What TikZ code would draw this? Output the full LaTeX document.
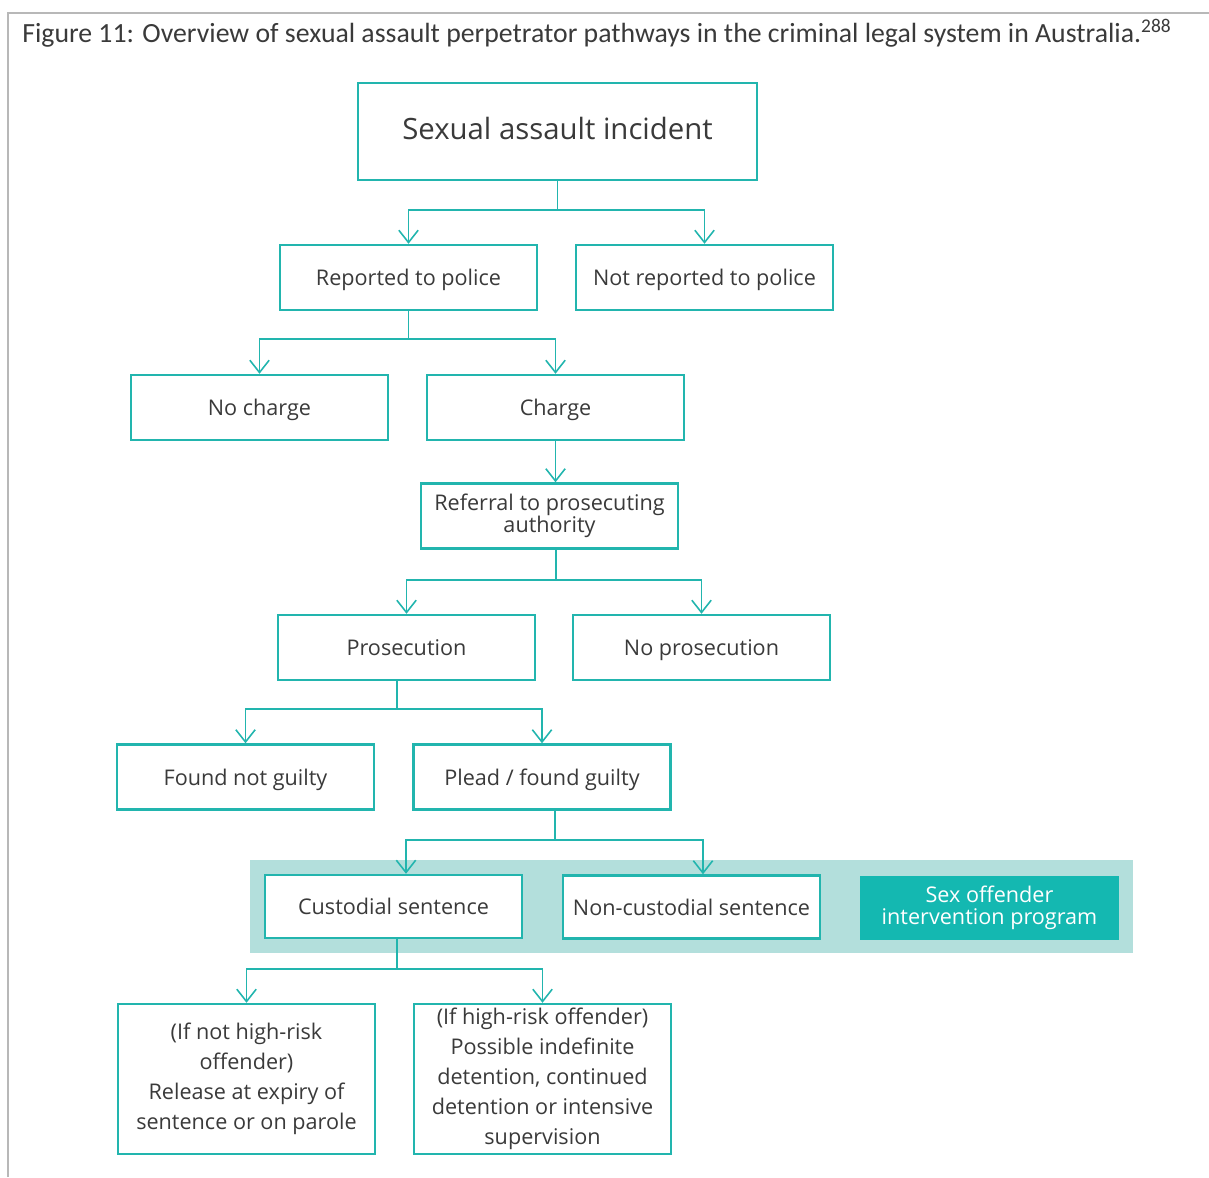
\documentclass[tikz,border=0pt]{standalone}
\usepackage{fontspec}
\setmainfont{Open Sans}
\newfontfamily\captionfont{Carlito}
\usetikzlibrary{arrows.meta, positioning}
\definecolor{flowteal}{HTML}{22B5AE}
\definecolor{bandteal}{HTML}{B3DFDC}
\definecolor{fillteal}{HTML}{14B8B1}
\definecolor{inkgray}{HTML}{3A3A3A}
\tikzset{
x=0.02cm, y=-0.02cm, % one unit is one pixel of the page, y runs downwards
>={Straight Barb[length=7pt,width=11pt,line width=0.9pt]}, % open arrow heads
stage/.style={draw=flowteal, line width=1.4pt, fill=white, text=inkgray,
  minimum width=5.14cm, minimum height=1.3cm, inner sep=0pt, align=center,
  font=\fontsize{12.3}{12.5}\selectfont}, % sets the properties for each box
oneline/.style={text height=2.1ex, text depth=0.35ex}, % keeps single lines on one baseline
tall/.style={minimum height=3cm, font=\fontsize{12.3}{17}\selectfont}, % boxes at the bottom
link/.style={->, draw=flowteal, line width=0.9pt}, % connectors between boxes
}
\begin{document}
\begin{tikzpicture}
    \useasboundingbox (0,0) rectangle (1209,1177);
    \draw[black!28, line width=1pt] (8,1177) -- (8,13) -- (1209,13);
    \node[anchor=base west, text=inkgray, inner sep=0pt, font=\captionfont\fontsize{15.8}{17}\selectfont] (caption) at (22,42)
      {Figure 11: Overview of sexual assault perpetrator pathways in the criminal legal system in Australia.\textsuperscript{288}};

    % the shaded band behind the sentences
    \fill[bandteal] (250,860) rectangle (1133,953);

    \node[stage, oneline, minimum width=7.98cm, minimum height=1.94cm, font=\fontsize{16.7}{18}\selectfont] (incident) at (557.5,131.5) {Sexual assault incident};
    \node[stage, oneline] (reported) at (408.5,277.5) {Reported to police};
    \node[stage, oneline] (notreported) at (704.5,277.5) {Not reported to police};
    \node[stage, oneline] (nocharge) at (259.5,407.5) {No charge};
    \node[stage, oneline] (charge) at (555.5,407.5) {Charge};
    \node[stage] (referral) at (549.5,516) {Referral to prosecuting\\authority};
    \node[stage, oneline] (prosecution) at (406.5,647.5) {Prosecution};
    \node[stage, oneline] (noprosecution) at (701.5,647.5) {No prosecution};
    \node[stage, oneline] (notguilty) at (245.5,777) {Found not guilty};
    \node[stage, oneline] (guilty) at (542,777) {Plead / found guilty};
    \node[stage, oneline, minimum height=1.26cm] (custodial) at (393.5,906.5) {Custodial sentence};
    \node[stage, oneline, minimum height=1.26cm] (noncustodial) at (691.5,907) {Non-custodial sentence};
    \node[stage, draw=none, fill=fillteal, text=white, minimum width=5.18cm, minimum height=1.28cm] (program) at (989.5,908) {Sex offender\\intervention program};
    \node[stage, tall] (release) at (246.5,1079) {(If not high-risk\\offender)\\Release at expiry of\\sentence or on parole};
    \node[stage, tall] (detention) at (542.5,1079) {(If high-risk offender)\\Possible indefinite\\detention, continued\\detention or intensive\\supervision};

    \draw[link] (incident.south) -- ++(0,29) -| (reported.north);
    \draw[link] (incident.south) -- ++(0,29) -| (notreported.north);
    \draw[link] (reported.south) -- ++(0,28) -| (nocharge.north);
    \draw[link] (reported.south) -- ++(0,28) -| (charge.north);
    \draw[link] (charge.south) -- (charge.south |- referral.north);
    \draw[link] ([xshift=0.13cm]referral.south) -- ++(0,30) -| (prosecution.north);
    \draw[link] ([xshift=0.13cm]referral.south) -- ++(0,30) -| (noprosecution.north);
    \draw[link] ([xshift=-0.19cm]prosecution.south) -- ++(0,28) -| (notguilty.north);
    \draw[link] ([xshift=-0.19cm]prosecution.south) -- ++(0,28) -| (guilty.north);
    \draw[link] ([xshift=0.26cm]guilty.south) -- ++(0,29) -| ([xshift=0.25cm]custodial.north);
    \draw[link] ([xshift=0.26cm]guilty.south) -- ++(0,29) -| ([xshift=0.23cm]noncustodial.north);
    \draw[link] ([xshift=0.07cm]custodial.south) -- ++(0,30) -| (release.north);
    \draw[link] ([xshift=0.07cm]custodial.south) -- ++(0,30) -| (detention.north);
\end{tikzpicture}
\end{document}
